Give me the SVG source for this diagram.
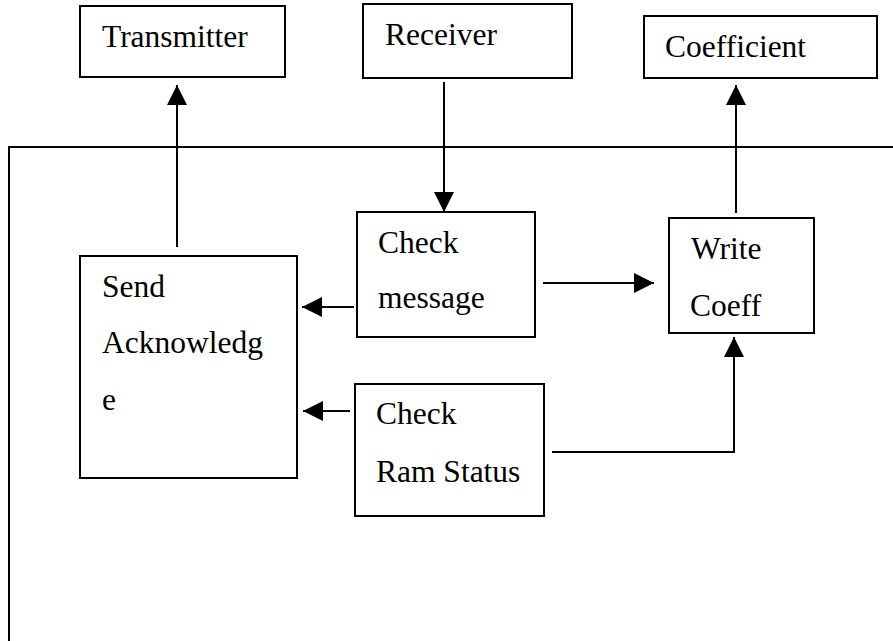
<svg xmlns="http://www.w3.org/2000/svg" width="893" height="641" viewBox="0 0 893 641">
<defs>
<style>
.box{fill:#fff;stroke:#000;stroke-width:2}
.ln{fill:none;stroke:#000;stroke-width:2}
text{font-family:"Liberation Serif","Times New Roman",serif;font-size:31.5px;fill:#000}
</style>
<marker id="ah" viewBox="0 0 20 20" refX="20" refY="10" markerWidth="20" markerHeight="20" markerUnits="userSpaceOnUse" orient="auto">
<path d="M0,0 L20,10 L0,20 Z" fill="#000"/>
</marker>
</defs>
<rect width="893" height="641" fill="#fff"/>
<g id="frame"><path class="ln" d="M9,641 V147 H893"/></g>
<g id="transmitter"><rect class="box" x="80" y="6" width="205" height="71"/><text x="102" y="47">Transmitter</text></g>
<g id="receiver"><rect class="box" x="363" y="4" width="209" height="74"/><text x="385" y="45">Receiver</text></g>
<g id="coefficient"><rect class="box" x="644" y="16" width="233" height="62"/><text x="665" y="57">Coefficient</text></g>
<g id="send"><rect class="box" x="80" y="256" width="217" height="222"/><text x="102" y="297">Send</text><text x="102" y="353">Acknowledg</text><text x="102" y="410">e</text></g>
<g id="checkmsg"><rect class="box" x="357" y="212" width="178" height="125"/><text x="378" y="253">Check</text><text x="378" y="308">message</text></g>
<g id="checkram"><rect class="box" x="355" y="384" width="189" height="132"/><text x="376" y="424">Check</text><text x="376" y="482">Ram Status</text></g>
<g id="writecoeff"><rect class="box" x="669" y="218" width="145" height="115"/><text x="691" y="259">Write</text><text x="690" y="316">Coeff</text></g>
<g id="connectors">
<line class="ln" x1="177" y1="247" x2="177" y2="85" marker-end="url(#ah)"/>
<line class="ln" x1="444" y1="82" x2="444" y2="212" marker-end="url(#ah)"/>
<line class="ln" x1="736" y1="213" x2="736" y2="85" marker-end="url(#ah)"/>
<line class="ln" x1="354" y1="307" x2="302" y2="307" marker-end="url(#ah)"/>
<line class="ln" x1="543" y1="283" x2="654" y2="283" marker-end="url(#ah)"/>
<line class="ln" x1="350" y1="411" x2="303" y2="411" marker-end="url(#ah)"/>
<path class="ln" d="M552,452 H734 V337" marker-end="url(#ah)"/>
</g>
</svg>
